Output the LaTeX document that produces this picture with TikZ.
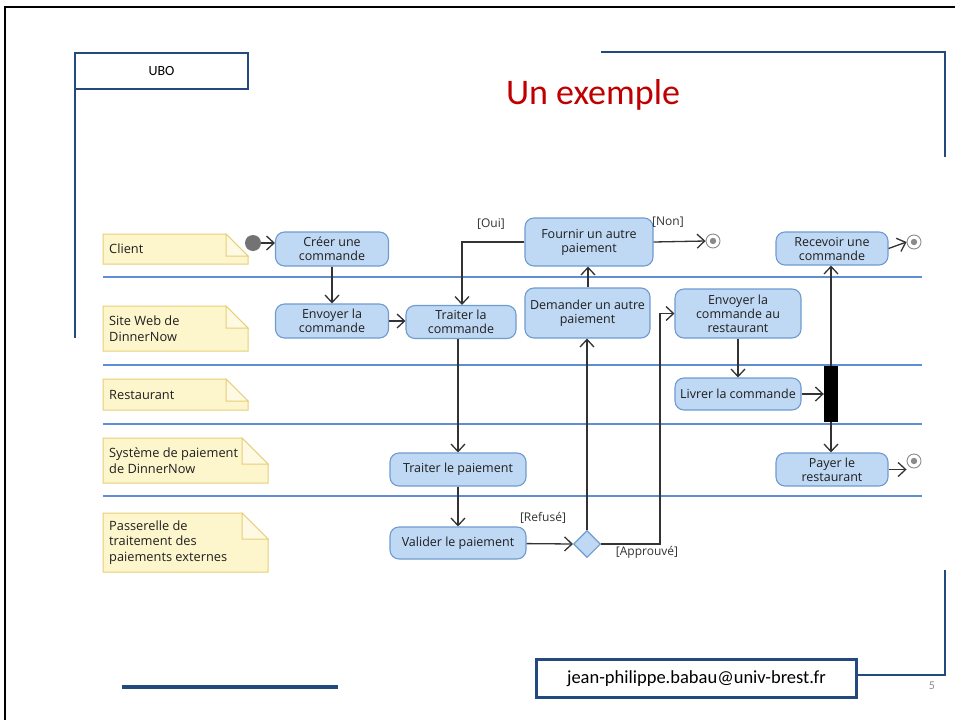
\documentclass[tikz,border=0pt]{standalone}
\usepackage{fontspec}
\setmainfont{Carlito}
\newfontfamily\diagfont{Open Sans}
\usetikzlibrary{arrows.meta,shapes.geometric}

\definecolor{actfill}{HTML}{BFD8F3}
\definecolor{actdraw}{HTML}{6F9BD1}
\definecolor{lanecol}{HTML}{5E8FD3}
\definecolor{notefill}{HTML}{FDF5CC}
\definecolor{notefold}{HTML}{FEF9E2}
\definecolor{notedraw}{HTML}{E6CF78}
\definecolor{frameblue}{HTML}{24497E}
\definecolor{titlered}{HTML}{C00000}
\definecolor{flowcol}{HTML}{333333}
\definecolor{endcol}{HTML}{8A8A8A}

% yellow lane note with a folded top-right corner:
% #1,#2 top-left, #3,#4 bottom-right, #5 fold size, #6 node name, #7 text
\newcommand{\lanenote}[7]{%
  \path[draw=notedraw, fill=notefill, line width=1pt]
    (#1,#2) -- (#3-#5,#2) -- (#3,#2+#5) -- (#3,#4) -- (#1,#4) -- cycle;
  \path[draw=notedraw, fill=notefold, line width=1pt]
    (#3-#5,#2) -- (#3-#5,#2+#5) -- (#3,#2+#5) -- cycle;
  \node[notetext] (#6) at (#1+6,{(#2+#4)/2}) {#7};%
}

\begin{document}
\begin{tikzpicture}[x=1pt,y=-1pt,
  action/.style={draw=actdraw, fill=actfill, line width=1.1pt,
    rounded corners=9pt, align=center, inner sep=0pt,
    font=\diagfont\fontsize{12.5}{14}\selectfont, text=black!88},
  notetext/.style={anchor=west, align=left, inner sep=0pt,
    font=\diagfont\fontsize{12.8}{15.5}\selectfont, text=black!88},
  flow/.style={draw=flowcol, line width=1.3pt,
    -{Straight Barb[length=7.5pt,width=14pt,line width=1.3pt]}},
  guard/.style={font=\diagfont\fontsize{12}{14}\selectfont, text=black!80, inner sep=0pt},
  lane/.style={draw=lanecol, line width=1.3pt},
  endnode/.style={circle, draw=endcol, line width=0.9pt, fill=white,
    minimum size=14pt, inner sep=0pt,
    path picture={\fill[endcol] (path picture bounding box.center) circle (3.2pt);}},
  framebar/.style={draw=frameblue, line width=2.8pt},
]
\useasboundingbox (0,0) rectangle (955,720);
\fill[white] (0,0) rectangle (955,720);

% slide border
\draw[black, line width=2pt] (5,720) -- (5,7) -- (955,7);

% header decorations
\node[draw=frameblue, line width=2.5pt, minimum width=173pt, minimum height=36pt,
      inner sep=0pt, font=\fontsize{14}{16}\selectfont] (ubo) at (161.5,71) {UBO};
\draw[framebar] (75,75) -- (75,338);
\draw[framebar] (601,52) -- (945,52) -- (945,157);
\node[text=titlered, font=\fontsize{36}{40}\selectfont, inner sep=0pt] (title) at (593,95) {Un exemple};

% footer decorations
\draw[draw=frameblue, line width=4pt] (122,687) -- (338,687);
\node[draw=frameblue, line width=2.5pt, minimum width=320pt, minimum height=38pt,
      inner sep=0pt, font=\fontsize{18.5}{20}\selectfont] (mail) at (696.5,678.5)
      {jean-philippe.babau@univ-brest.fr};
\draw[framebar] (mail.east |- 0,675) -- (945,675) -- (945,570);
\node[text=black!45, font=\fontsize{12}{14}\selectfont, inner sep=0pt] (pagenum) at (932,686) {5};

% swimlane separators
\foreach \yy in {277,365,424,496}
  \draw[lane] (103,\yy) -- (922,\yy);

% lane notes
\lanenote{103}{234}{248}{264}{22}{nclient}{Client}
\lanenote{103}{306}{248}{351}{22}{nweb}{Site Web de\\DinnerNow}
\lanenote{103}{379}{248}{410}{22}{nresto}{Restaurant}
\lanenote{103}{438}{268}{483}{26}{npay}{Système de paiement\\de DinnerNow}
\lanenote{103}{513}{268}{572}{26}{ngate}{Passerelle de\\traitement des\\paiements externes}

% actions
\node[action, minimum width=113pt, minimum height=34pt] (creer) at (332,249) {Créer une\\commande};
\node[action, minimum width=113pt, minimum height=34pt] (envoyer) at (332,321) {Envoyer la\\commande};
\node[action, minimum width=110pt, minimum height=33pt] (traiterc) at (461,322) {Traiter la\\commande};
\node[action, minimum width=128pt, minimum height=48pt] (fournir) at (589,242) {Fournir un autre\\paiement};
\node[action, minimum width=125pt, minimum height=50pt] (demander) at (587.5,313) {Demander un autre\\paiement};
\node[action, minimum width=126pt, minimum height=49pt] (envresto) at (738,313.5) {Envoyer la\\commande au\\restaurant};
\node[action, minimum width=112pt, minimum height=33pt] (recevoir) at (832,248.5) {Recevoir une\\commande};
\node[action, minimum width=126pt, minimum height=32pt] (livrer) at (738,394) {Livrer la commande};
\node[action, minimum width=136pt, minimum height=33pt] (traiterp) at (458,469.5) {Traiter le paiement};
\node[action, minimum width=136pt, minimum height=32pt] (valider) at (458,543) {Valider le paiement};
\node[action, minimum width=112pt, minimum height=33pt] (payer) at (832,469.5) {Payer le\\restaurant};

% control nodes
\node[circle, fill=black!55, minimum size=16pt, inner sep=0pt] (start) at (253,243) {};
\node[endnode] (endnon) at (713,241) {};
\node[endnode] (endrecv) at (914,242) {};
\node[endnode] (endpay) at (914,461) {};
\node[diamond, draw=actdraw, fill=actfill, line width=1.1pt, minimum width=27pt,
      minimum height=27pt, inner sep=0pt] (decide) at (587,544) {};
\node[fill=black, minimum width=14pt, minimum height=56pt, inner sep=0pt] (fork) at (831,394) {};

% flows
\draw[flow] (start) -- (creer.west |- start);
\draw[flow] (creer) -- (envoyer);
\draw[flow] (envoyer) -- (traiterc.west |- envoyer);
\draw[flow] (traiterc.south -| 458,0) -- (traiterp.north);
\draw[flow] (traiterp) -- (valider);
\draw[flow] (valider) -- (decide.west);
\draw[flow] (decide.north) -- (decide.north |- demander.south);
\draw[flow] (demander.north -| 588,0) -- (fournir.south -| 588,0);
\draw[flow] (fournir.west) -| (traiterc.north -| 462,0);
\draw[flow] (fournir.east) -- (endnon.west);
\coordinate (approuve) at (660,544);
\draw[flow] (decide.east) -- (approuve) |- (envresto.west);
\draw[flow] (envresto) -- (livrer);
\draw[flow] (livrer) -- (fork.west);
\draw[flow] (fork.north) -- (fork.north |- recevoir.south);
\draw[flow] (fork.south) -- (fork.south |- payer.north);
\draw[flow] (recevoir.east) -- (endrecv.west);
\draw[flow] (payer.east) -- (endpay.west |- payer.east);

% guards
\node[guard] (goui) at (491,224) {[Oui]};
\node[guard] (gnon) at (668,222) {[Non]};
\node[guard] (grefuse) at (543,518) {[Refusé]};
\node[guard] (gapprouve) at (647,552) {[Approuvé]};
\end{tikzpicture}
\end{document}
